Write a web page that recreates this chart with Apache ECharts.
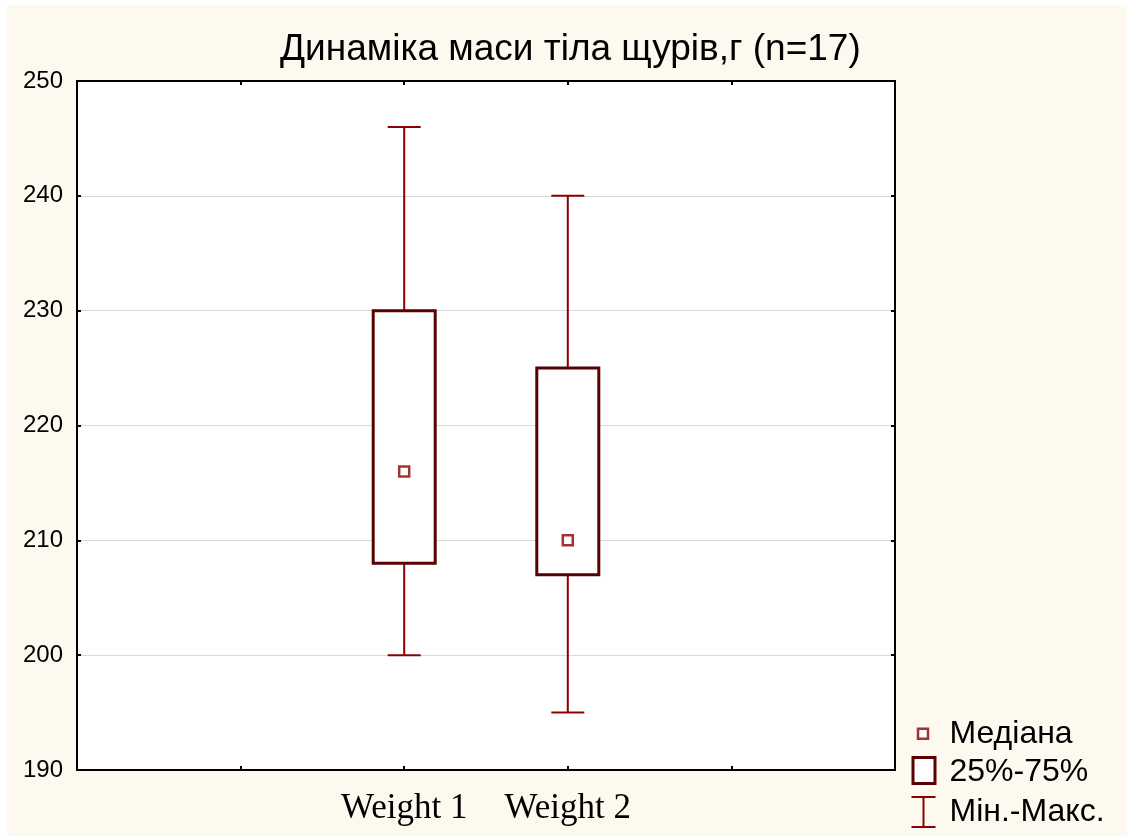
<!DOCTYPE html>
<html>
<head>
<meta charset="utf-8">
<script src="https://cdn.jsdelivr.net/npm/echarts@6/dist/echarts.min.js"></script>
<style>
  html, body { margin: 0; padding: 0; background: #ffffff; }
  #chart { position: absolute; left: 7px; top: 5px; width: 1120px; height: 831px; }
</style>
</head>
<body>
<div id="chart"></div>
<script>
// Rat body weight, two weighings (n = 17)
const categories = ['Weight 1', 'Weight 2'];
const minValues = [200, 195];
const q1Values = [208, 207];
const medianValues = [216, 210];
const q3Values = [230, 225];
const maxValues = [246, 240];

// Value axis range and tick step
const yMin = 190;
const yMax = 250;
const yStep = 10;

const titleText = 'Динаміка маси тіла щурів,г (n=17)';
const legendNames = ['Медіана', '25%-75%', 'Мін.-Макс.'];

const WHISKER = '#8b0000';
const BOX = '#5a0000';

const chart = echarts.init(document.getElementById('chart'), null, { renderer: 'canvas' });

// Category i sits at x = i; the axis leaves two empty slots on each side.
const xLo = -2;
const xHi = categories.length + 1;

const rangeData = categories.map((c, i) => [i, minValues[i], maxValues[i]]);
const boxData = categories.map((c, i) => [i, q1Values[i], q3Values[i]]);
const medianData = categories.map((c, i) => [i, medianValues[i]]);

const frameLine = { show: true, onZero: false, lineStyle: { color: '#000', width: 2 } };
const frameTick = { show: true, inside: true, length: 4, lineStyle: { color: '#000', width: 2 } };

const option = {
  backgroundColor: '#fef9ef',
  animation: false,
  title: {
    text: titleText,
    left: 268,
    top: 21,
    textStyle: { fontFamily: 'Liberation Sans', fontSize: 37, fontWeight: 'normal', color: '#000' }
  },
  grid: {
    left: 70, top: 76, right: 232, bottom: 66,
    show: true, backgroundColor: '#ffffff', borderColor: '#000', borderWidth: 2
  },
  legend: {
    orient: 'vertical',
    left: 902,
    top: 712,
    padding: 0,
    itemWidth: 33,
    itemHeight: 32,
    itemGap: 3.5,
    selectedMode: false,
    textStyle: { fontFamily: 'Liberation Sans', fontSize: 32, color: '#000' },
    data: [
      {
        name: legendNames[0],
        icon: 'path://M0,0M33,32M6.5,10.5h10v10h-10z',
        itemStyle: { color: '#ffffff', borderColor: WHISKER, borderWidth: 2.5 }
      },
      {
        name: legendNames[1],
        icon: 'path://M0,0M33,32M1.5,1h22v26h-22z',
        itemStyle: { color: '#ffffff', borderColor: BOX, borderWidth: 3 }
      },
      {
        name: legendNames[2],
        icon: 'path://M0,0M33,32M0,1h24M12,1v30M0,31h24',
        itemStyle: { color: 'none', borderColor: WHISKER, borderWidth: 2 }
      }
    ]
  },
  xAxis: [
    {
      type: 'value', min: xLo, max: xHi, interval: 1, position: 'bottom',
      axisLine: frameLine,
      axisTick: frameTick,
      axisLabel: {
        formatter: v => categories[v] !== undefined ? categories[v] : '',
        fontFamily: 'Liberation Serif', fontSize: 35, color: '#000', margin: 21
      },
      splitLine: { show: false }
    },
    {
      type: 'value', min: xLo, max: xHi, interval: 1, position: 'top',
      axisLine: frameLine,
      axisTick: frameTick,
      axisLabel: { show: false },
      splitLine: { show: false }
    }
  ],
  yAxis: [
    {
      type: 'value', min: yMin, max: yMax, interval: yStep, position: 'left',
      axisLine: frameLine,
      axisTick: frameTick,
      axisLabel: { fontFamily: 'Liberation Sans', fontSize: 24, color: '#000', margin: 14 },
      splitLine: { show: true, lineStyle: { color: '#d9d9d9', width: 1 } }
    },
    {
      type: 'value', min: yMin, max: yMax, interval: yStep, position: 'right',
      axisLine: frameLine,
      axisTick: frameTick,
      axisLabel: { show: false },
      splitLine: { show: false }
    }
  ],
  series: [
    {
      name: legendNames[2],
      type: 'custom',
      z: 2,
      data: rangeData,
      encode: { x: 0, y: [1, 2] },
      renderItem: (params, api) => {
        const x = api.value(0);
        const lo = api.coord([x, api.value(1)]);
        const hi = api.coord([x, api.value(2)]);
        const half = 16.5;
        const stroke = { stroke: WHISKER, lineWidth: 2 };
        return {
          type: 'group',
          children: [
            { type: 'line', shape: { x1: lo[0], y1: lo[1], x2: hi[0], y2: hi[1] }, style: stroke },
            { type: 'line', shape: { x1: hi[0] - half, y1: hi[1], x2: hi[0] + half, y2: hi[1] }, style: stroke },
            { type: 'line', shape: { x1: lo[0] - half, y1: lo[1], x2: lo[0] + half, y2: lo[1] }, style: stroke }
          ]
        };
      }
    },
    {
      name: legendNames[1],
      type: 'custom',
      z: 3,
      data: boxData,
      encode: { x: 0, y: [1, 2] },
      renderItem: (params, api) => {
        const x = api.value(0);
        const lo = api.coord([x, api.value(1)]);
        const hi = api.coord([x, api.value(2)]);
        const half = 31;
        return {
          type: 'rect',
          shape: { x: lo[0] - half, y: hi[1], width: half * 2, height: lo[1] - hi[1] },
          style: { fill: '#ffffff', stroke: BOX, lineWidth: 3 }
        };
      }
    },
    {
      name: legendNames[0],
      type: 'scatter',
      z: 4,
      data: medianData,
      symbol: 'rect',
      symbolSize: 10,
      itemStyle: { color: '#ffffff', borderColor: WHISKER, borderWidth: 2.5 }
    }
  ]
};

chart.setOption(option);
</script>
</body>
</html>
